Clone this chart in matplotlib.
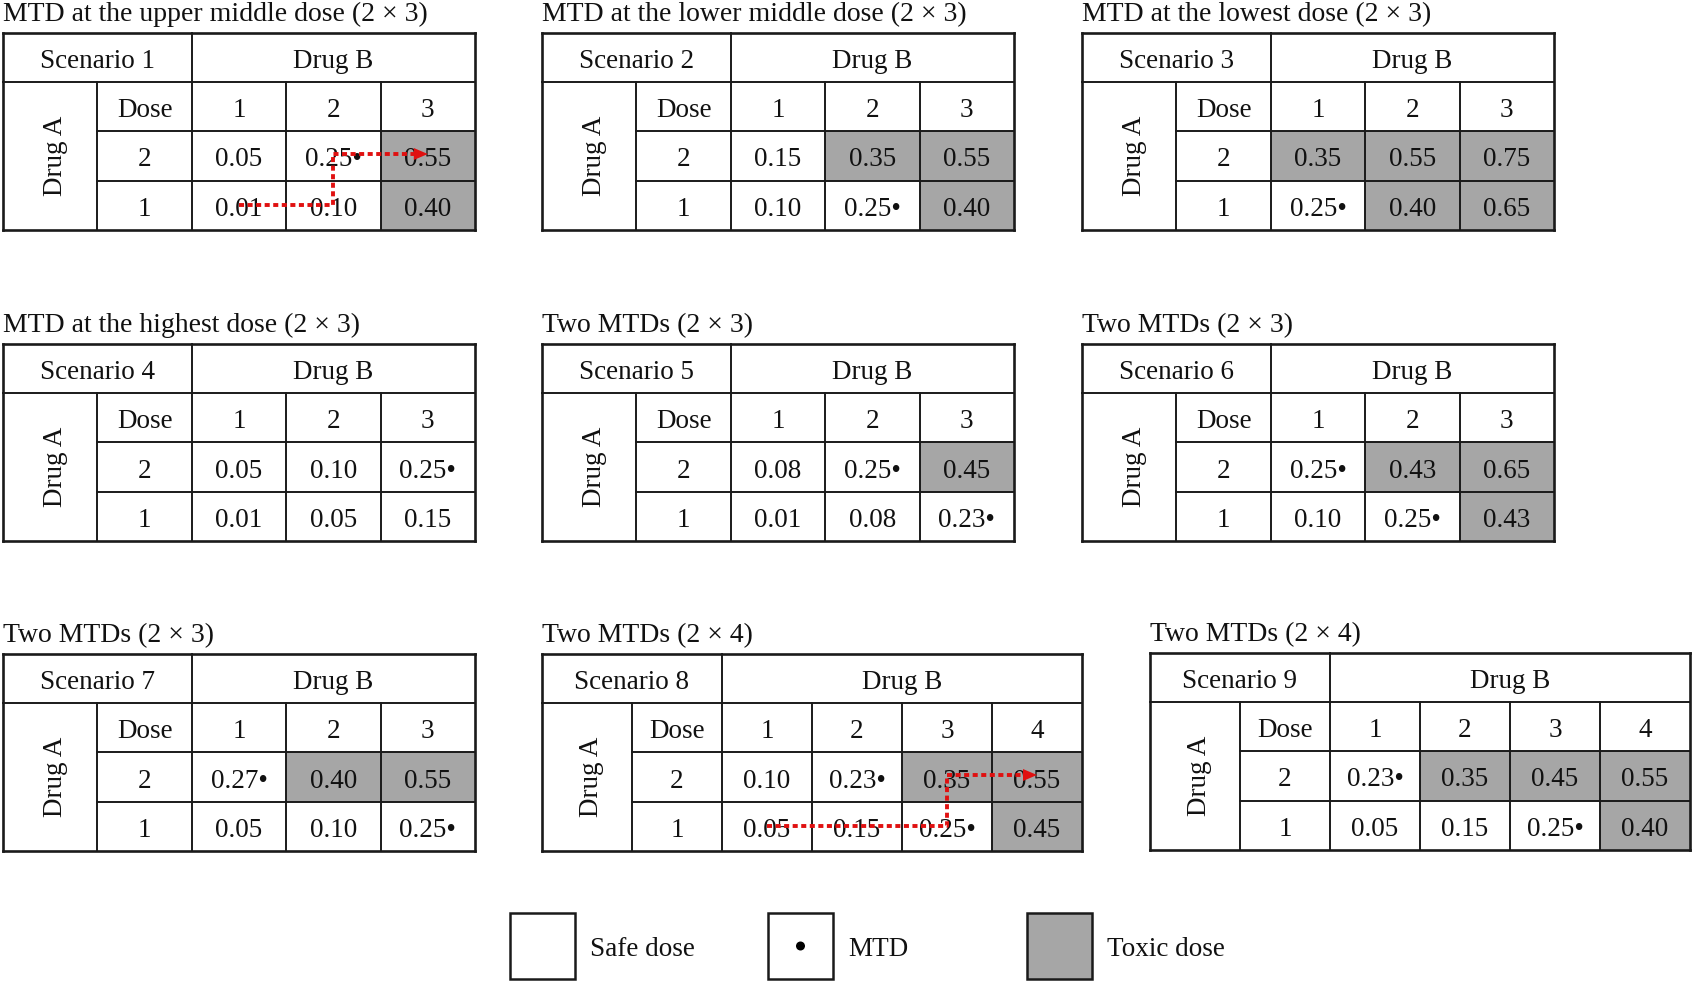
import matplotlib
matplotlib.use('Agg')
import matplotlib.pyplot as plt
from matplotlib.patches import Rectangle, Polygon, Circle

plt.rcParams['font.family'] = ['Liberation Serif', 'DejaVu Serif']

# ---------------- data ----------------
titles = [
    "MTD at the upper middle dose (2 \u00d7 3)",
    "MTD at the lower middle dose (2 \u00d7 3)",
    "MTD at the lowest dose (2 \u00d7 3)",
    "MTD at the highest dose (2 \u00d7 3)",
    "Two MTDs (2 \u00d7 3)",
    "Two MTDs (2 \u00d7 3)",
    "Two MTDs (2 \u00d7 3)",
    "Two MTDs (2 \u00d7 4)",
    "Two MTDs (2 \u00d7 4)",
]
scenario_labels = ["Scenario %d" % i for i in range(1, 10)]
drug_a_label = "Drug A"
drug_b_label = "Drug B"
dose_label = "Dose"
row_doses = ["2", "1"]  # top row = dose 2, bottom row = dose 1

# toxicity probabilities, rows: Drug A dose 2, Drug A dose 1
probs_s1 = [[0.05, 0.25, 0.55], [0.01, 0.10, 0.40]]
probs_s2 = [[0.15, 0.35, 0.55], [0.10, 0.25, 0.40]]
probs_s3 = [[0.35, 0.55, 0.75], [0.25, 0.40, 0.65]]
probs_s4 = [[0.05, 0.10, 0.25], [0.01, 0.05, 0.15]]
probs_s5 = [[0.08, 0.25, 0.45], [0.01, 0.08, 0.23]]
probs_s6 = [[0.25, 0.43, 0.65], [0.10, 0.25, 0.43]]
probs_s7 = [[0.27, 0.40, 0.55], [0.05, 0.10, 0.25]]
probs_s8 = [[0.10, 0.23, 0.35, 0.55], [0.05, 0.15, 0.25, 0.45]]
probs_s9 = [[0.23, 0.35, 0.45, 0.55], [0.05, 0.15, 0.25, 0.40]]

# cell status: S = safe, M = MTD, T = toxic
status_s1 = [["S", "M", "T"], ["S", "S", "T"]]
status_s2 = [["S", "T", "T"], ["S", "M", "T"]]
status_s3 = [["T", "T", "T"], ["M", "T", "T"]]
status_s4 = [["S", "S", "M"], ["S", "S", "S"]]
status_s5 = [["S", "M", "T"], ["S", "S", "M"]]
status_s6 = [["M", "T", "T"], ["S", "M", "T"]]
status_s7 = [["M", "T", "T"], ["S", "S", "M"]]
status_s8 = [["S", "M", "T", "T"], ["S", "S", "M", "T"]]
status_s9 = [["M", "T", "T", "T"], ["S", "S", "M", "T"]]

probs = [probs_s1, probs_s2, probs_s3, probs_s4, probs_s5,
         probs_s6, probs_s7, probs_s8, probs_s9]
statuses = [status_s1, status_s2, status_s3, status_s4, status_s5,
            status_s6, status_s7, status_s8, status_s9]

# escalation paths (row index, column index) for scenarios 1 and 8
path_s1 = [(1, 0), (1, 1), (0, 1), (0, 2)]
path_s8 = [(1, 0), (1, 2), (0, 2), (0, 3)]
paths = {0: path_s1, 7: path_s8}

legend_labels = ["Safe dose", "MTD", "Toxic dose"]

# ---------------- layout (pixels) ----------------
W, H = 1693, 983
table_x0 = [3, 542, 1082, 3, 542, 1082, 3, 542, 1150]
table_y0 = [33, 33, 33, 344, 344, 344, 654, 654, 653]
table_w = [472, 472, 472, 472, 472, 472, 472, 540, 540]
row_h = 49.2
title_gap = 12

FS = 19.5
FS_T = 20
TOX = '#a6a6a6'
LC = '#1a1a1a'
TC = '#111111'
RED = '#e01010'
LW_IN = 1.4
LW_OUT = 1.9
DY = 4      # text baseline nudge (pixels, downward)
DXA = 5     # nudge for rotated "Drug A"

fig = plt.figure(figsize=(W / 100, H / 100), dpi=100)
ax = fig.add_axes([0, 0, 1, 1])
ax.set_xlim(0, W)
ax.set_ylim(H, 0)
ax.axis('off')


def hline(x1, x2, y, lw=LW_IN):
    ax.plot([x1, x2], [y, y], color=LC, lw=lw, solid_capstyle='projecting', zorder=3)


def vline(x, y1, y2, lw=LW_IN):
    ax.plot([x, x], [y1, y2], color=LC, lw=lw, solid_capstyle='projecting', zorder=3)


def ctext(x, y, s, **kw):
    ax.text(x, y + DY, s, fontsize=FS, color=TC, ha='center', va='center', **kw)


for k in range(9):
    x0, y0, w = table_x0[k], table_y0[k], table_w[k]
    p = probs[k]
    st = statuses[k]
    nc = len(p[0])
    cw = w / (nc + 2)
    xs = [x0 + i * cw for i in range(nc + 3)]
    ys = [y0 + j * row_h for j in range(5)]

    # title
    ax.text(x0, y0 - title_gap, titles[k], fontsize=FS_T, color=TC,
            ha='left', va='baseline')

    # cell fills
    for r in range(2):
        for c in range(nc):
            if st[r][c] == "T":
                ax.add_patch(Rectangle((xs[c + 2], ys[r + 2]), cw, row_h,
                                       facecolor=TOX, edgecolor='none', zorder=1))

    # grid lines
    hline(xs[0], xs[-1], ys[0], LW_OUT)
    hline(xs[0], xs[-1], ys[1])
    hline(xs[1], xs[-1], ys[2])
    hline(xs[1], xs[-1], ys[3])
    hline(xs[0], xs[-1], ys[4], LW_OUT)
    vline(xs[0], ys[0], ys[4], LW_OUT)
    vline(xs[-1], ys[0], ys[4], LW_OUT)
    vline(xs[1], ys[1], ys[4])
    vline(xs[2], ys[0], ys[4])
    for i in range(3, nc + 2):
        vline(xs[i], ys[1], ys[4])

    # header texts
    ctext((xs[0] + xs[2]) / 2, (ys[0] + ys[1]) / 2, scenario_labels[k])
    ctext((xs[2] + xs[-1]) / 2, (ys[0] + ys[1]) / 2, drug_b_label)
    ax.text((xs[0] + xs[1]) / 2 + DXA, (ys[1] + ys[4]) / 2, drug_a_label,
            fontsize=FS, color=TC, ha='center', va='center', rotation=90)
    ctext((xs[1] + xs[2]) / 2, (ys[1] + ys[2]) / 2, dose_label)
    for c in range(nc):
        ctext((xs[c + 2] + xs[c + 3]) / 2, (ys[1] + ys[2]) / 2, str(c + 1))
    for r in range(2):
        ctext((xs[1] + xs[2]) / 2, (ys[r + 2] + ys[r + 3]) / 2, row_doses[r])
        for c in range(nc):
            s = "%.2f" % p[r][c]
            if st[r][c] == "M":
                s += "\u2022"
            ctext((xs[c + 2] + xs[c + 3]) / 2, (ys[r + 2] + ys[r + 3]) / 2, s,
                  zorder=4)

    # escalation path
    if k in paths:
        pts = [((xs[c + 2] + xs[c + 3]) / 2, (ys[r + 2] + ys[r + 3]) / 2 - (2 if r == 0 else 0))
               for r, c in paths[k]]
        head_len = 14
        head_half = 6
        px = [q[0] for q in pts]
        py = [q[1] for q in pts]
        tip_x, tip_y = px[-1], py[-1]
        px[-1] = tip_x - head_len
        ax.plot(px, py, color=RED, lw=2.8, linestyle=(0, (1.3, 0.9)),
                dash_capstyle='butt', zorder=5)
        ax.add_patch(Polygon([(tip_x, tip_y), (tip_x - head_len, tip_y - head_half),
                              (tip_x - head_len, tip_y + head_half)],
                             closed=True, facecolor=RED, edgecolor='none', zorder=6))

# ---------------- legend ----------------
leg_box_x = [510, 768, 1027]
leg_box_y = 913
leg_box_w = 65
leg_box_h = 66
leg_fill = ['white', 'white', TOX]
for i, lab in enumerate(legend_labels):
    bx = leg_box_x[i]
    ax.add_patch(Rectangle((bx, leg_box_y), leg_box_w, leg_box_h,
                           facecolor=leg_fill[i], edgecolor=LC, lw=1.8, zorder=2))
    if lab == "MTD":
        ax.add_patch(Circle((bx + leg_box_w / 2, leg_box_y + leg_box_h / 2), 4.5,
                            facecolor='black', edgecolor='none', zorder=3))
    ax.text(bx + leg_box_w + 15, leg_box_y + leg_box_h / 2 + 3, lab, fontsize=FS,
            color=TC, ha='left', va='center')

fig.savefig('out.png', dpi=100, facecolor='white')
